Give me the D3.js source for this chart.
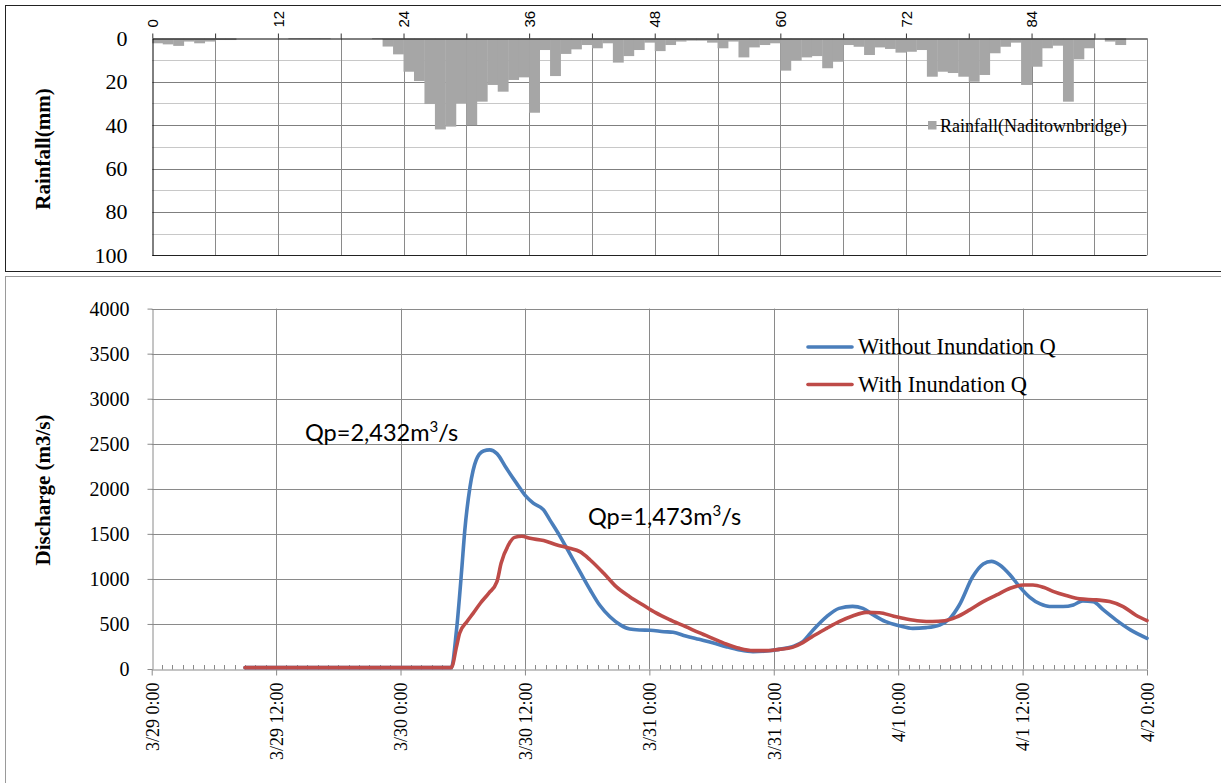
<!DOCTYPE html>
<html>
<head>
<meta charset="utf-8">
<script src="https://cdn.jsdelivr.net/npm/d3@7"></script>
<style>
  body { margin: 0; background: #fff; }
  svg { display: block; }
</style>
</head>
<body>
<svg id="chart" width="1221" height="783"></svg>
<script>
// ---- Hourly rainfall at Naditownbridge (mm), hour 0 = 3/29 0:00 ----
const rainfall = [
  2.3, 2.8, 3.5, 1.5, 2.3, 1.5, 0.8, 0.8, 0, 0,
  0, 0, 0, 0.4, 0.4, 0.4, 0.4, 0, 0, 0,
  0, 0.4, 3.8, 7.4, 15.4, 19.7, 30.3, 42, 40.7, 30,
  40, 29.2, 21.5, 24.6, 19.2, 18, 34.3, 5.4, 17.4, 7.2,
  5.1, 3.1, 4.6, 2.3, 11.2, 8.2, 5.4, 2, 5.9, 3.1,
  1.5, 1.1, 1.1, 2, 4.6, 1.5, 8.8, 4.2, 3.1, 2.3,
  14.9, 10.3, 8.8, 8.2, 13.8, 10.8, 3.1, 3.9, 7.7, 4.2,
  4.9, 6.6, 6.2, 5.4, 17.7, 15.4, 16, 17.7, 20, 16.9,
  6.9, 3.9, 2, 21.5, 13.1, 4.6, 3.4, 29.2, 9.7, 4.6,
  0, 1.5, 3.1, 0, 0
];
const rainHours = d3.range(rainfall.length);
const rainYTicks = [0, 20, 40, 60, 80, 100];

// ---- Discharge hydrographs (hours from 3/29 0:00, m3/s) ----
const withoutHours = [9, 28.9, 29.4, 29.9, 30.2, 30.7, 31.3, 32, 32.6, 33.3, 34.2, 35.2, 36, 36.8, 37.8, 38.4,
  39.4, 40.3, 41.3, 42.3, 43.2, 44.2, 45.2, 46.1, 47.1, 48.1, 49.4, 50.3, 51.5, 52.8, 54.1, 55.4, 56.7,
  58, 59.3, 60.5, 61.8, 62.8, 63.8, 65.1, 66.3, 67.6, 68.6, 69.6, 70.8, 72.1, 73.4, 74.7, 76, 77,
  77.9, 79.2, 80.2, 81, 81.8, 82.8, 83.7, 84.7, 85.7, 86.6, 87.9, 88.9, 89.8, 90.8, 91.8, 93, 94.4, 96];
const withoutQ = [15, 15, 433, 1100, 1540, 2020, 2320, 2420, 2432, 2390, 2230, 2060, 1930, 1840, 1765, 1655,
  1470, 1285, 1080, 877, 710, 580, 490, 444, 433, 430, 414, 407, 366, 329, 292, 248, 211,
  192, 200, 218, 248, 303, 433, 581, 673, 695, 673, 600, 525, 481, 451, 459, 488, 562,
  710, 1026, 1166, 1195, 1155, 1044, 915, 796, 722, 693, 693, 711, 756, 748, 656, 545, 434, 341];

const withHours = [9, 28.9, 29.4, 29.7, 30.4, 31, 31.7, 32.5, 33.3, 33.7, 34.4, 35, 35.7, 36.5, 37.8, 39.1,
  40.3, 41.3, 42.3, 43.6, 44.8, 46.1, 47.4, 48.6, 49.9, 51.5, 52.8, 54.1, 55.4, 56.7, 58, 59.3, 60.5,
  61.8, 62.8, 63.8, 65.1, 66.3, 67.6, 68.9, 70.2, 71.5, 72.8, 74.1, 75.3, 76.5, 77.6, 78.9, 80.2,
  81.5, 82.8, 84.1, 85, 86, 87, 88.2, 89.5, 91.1, 92.4, 93.7, 94.9, 96];
const withQ = [15, 15, 248, 396, 525, 618, 730, 840, 970, 1173, 1376, 1461, 1473, 1450, 1425, 1376,
  1340, 1302, 1210, 1062, 914, 803, 710, 625, 550, 470, 403, 340, 278, 229, 204, 204, 218,
  240, 292, 366, 451, 525, 588, 629, 625, 588, 555, 533, 527, 535, 575, 656, 748,
  822, 896, 933, 933, 907, 859, 815, 778, 767, 748, 693, 600, 537];

const dischargeTicks = d3.range(0, 4001, 500);
const timeTickHours = d3.range(0, 97, 12);
const timeTickLabels = ["3/29 0:00", "3/29 12:00", "3/30 0:00", "3/30 12:00", "3/31 0:00",
  "3/31 12:00", "4/1 0:00", "4/1 12:00", "4/2 0:00"];

const seriesNames = ["Without Inundation Q", "With Inundation Q"];
const seriesColors = ["#4a7ebb", "#be4b48"];

// ---- drawing ----
const serif = "'Liberation Serif','Times New Roman',serif";
const sans = "'Liberation Sans',Arial,sans-serif";
const svg = d3.select("#chart");

// panel frames
svg.append("rect").attr("x", 5.5).attr("y", 5.5).attr("width", 1222).attr("height", 266)
  .attr("fill", "none").attr("stroke", "#222");
svg.append("rect").attr("x", 5.5).attr("y", 276.5).attr("width", 1222).attr("height", 520)
  .attr("fill", "none").attr("stroke", "#9a9a9a");

// ===== Rainfall panel =====
const rL = 152.3, rR = 1146.7, rT = 38.3, rB = 255.3;
const xr = d3.scaleLinear().domain([0, rainfall.length]).range([rL, rR]);
const band = d3.scaleBand().domain(rainHours).range([rL, rR]).padding(0);
const yr = d3.scaleLinear().domain([0, 100]).range([rT, rB]);

const rg = svg.append("g");
// minor horizontal grid (every 10 mm)
rg.selectAll("line.minor").data(d3.range(10, 100, 20)).join("line")
  .attr("x1", rL).attr("x2", rR).attr("y1", d => Math.round(yr(d)) + 0.5).attr("y2", d => Math.round(yr(d)) + 0.5)
  .attr("stroke", "#c8c8c8");
// major horizontal grid
rg.selectAll("line.major").data([20, 40, 60, 80]).join("line")
  .attr("x1", rL).attr("x2", rR).attr("y1", d => Math.round(yr(d)) + 0.5).attr("y2", d => Math.round(yr(d)) + 0.5)
  .attr("stroke", "#7f7f7f");
// vertical grid every 6 h
rg.selectAll("line.v").data(d3.range(6, rainfall.length, 6).concat([rainfall.length])).join("line")
  .attr("x1", d => Math.round(xr(d)) + 0.5).attr("x2", d => Math.round(xr(d)) + 0.5)
  .attr("y1", rT).attr("y2", rB).attr("stroke", "#8a8a8a");

// bars hanging from the top axis
rg.selectAll("rect.bar").data(rainHours).join("rect")
  .attr("x", i => band(i)).attr("width", band.bandwidth() + 0.4)
  .attr("y", yr(0)).attr("height", i => yr(rainfall[i]) - yr(0))
  .attr("fill", "#a6a6a6");

// bottom border
rg.append("line").attr("x1", rL).attr("x2", rR).attr("y1", Math.round(rB) + 0.5).attr("y2", Math.round(rB) + 0.5)
  .attr("stroke", "#222");

// top axis (hours)
const topAxis = d3.axisTop(xr).tickValues(d3.range(0, rainfall.length, 6))
  .tickSize(5).tickSizeOuter(0).tickFormat(d => d % 12 === 0 ? d : "");
const ta = rg.append("g").attr("transform", `translate(0,${Math.round(rT) + 0.5})`).call(topAxis);
ta.select(".domain").attr("stroke", "#000");
ta.selectAll(".tick line").attr("stroke", "#333");
ta.selectAll(".tick text")
  .attr("transform", "rotate(-90)").attr("x", 11).attr("y", 0).attr("dy", "0.35em")
  .attr("text-anchor", "start").attr("font-family", sans).attr("font-size", 15).attr("fill", "#000");

// left axis (mm)
const la = rg.append("g").attr("transform", `translate(${Math.round(rL) + 0.5},0)`)
  .call(d3.axisLeft(yr).tickValues(rainYTicks).tickSize(0).tickPadding(25));
la.select(".domain").attr("stroke", "#000");
la.selectAll(".tick text").attr("font-family", serif).attr("font-size", 22).attr("fill", "#000");

rg.append("text").attr("transform", "translate(50,149) rotate(-90)")
  .attr("text-anchor", "middle").attr("font-family", serif).attr("font-size", 21)
  .attr("font-weight", "bold").text("Rainfall(mm)");

// legend
rg.append("rect").attr("x", 928).attr("y", 121).attr("width", 8.5).attr("height", 8.5).attr("fill", "#a6a6a6");
rg.append("text").attr("x", 940).attr("y", 132).attr("font-family", serif).attr("font-size", 18)
  .attr("fill", "#000").text("Rainfall(Naditownbridge)");

// ===== Discharge panel =====
const qL = 151.7, qR = 1147, qT = 308.6, qB = 669;
const xq = d3.scaleLinear().domain([0, 96]).range([qL, qR]);
const yq = d3.scaleLinear().domain([0, 4000]).range([qB, qT]);

const qg = svg.append("g");
qg.selectAll("line.h").data(dischargeTicks.slice(1)).join("line")
  .attr("x1", qL).attr("x2", qR).attr("y1", d => Math.round(yq(d)) + 0.5).attr("y2", d => Math.round(yq(d)) + 0.5)
  .attr("stroke", "#8a8a8a");
qg.selectAll("line.v").data(timeTickHours.slice(1)).join("line")
  .attr("x1", d => Math.round(xq(d)) + 0.5).attr("x2", d => Math.round(xq(d)) + 0.5)
  .attr("y1", qT).attr("y2", qB).attr("stroke", "#8a8a8a");

// hourly minor ticks
qg.selectAll("line.minor").data(d3.range(0, 97).filter(h => h % 12 !== 0)).join("line")
  .attr("x1", d => Math.round(xq(d)) + 0.5).attr("x2", d => Math.round(xq(d)) + 0.5)
  .attr("y1", Math.round(qB) + 0.5).attr("y2", Math.round(qB) - 4)
  .attr("stroke", "#8a8a8a");

const xa = qg.append("g").attr("transform", `translate(0,${Math.round(qB) + 0.5})`)
  .call(d3.axisBottom(xq).tickValues(timeTickHours).tickSize(6).tickSizeOuter(0)
    .tickFormat((d, i) => timeTickLabels[i]));
xa.select(".domain").attr("stroke", "#8a8a8a");
xa.selectAll(".tick line").attr("stroke", "#8a8a8a");
xa.selectAll(".tick text")
  .attr("transform", "rotate(-90)").attr("x", -13).attr("y", 0).attr("dy", "0.35em")
  .attr("text-anchor", "end").attr("font-family", serif).attr("font-size", 18).attr("fill", "#000");

const ya = qg.append("g").attr("transform", `translate(${Math.round(qL) + 0.5},0)`)
  .call(d3.axisLeft(yq).tickValues(dischargeTicks).tickSize(5).tickSizeOuter(0).tickPadding(18)
    .tickFormat(d3.format("d")));
ya.select(".domain").attr("stroke", "#8a8a8a");
ya.selectAll(".tick line").attr("stroke", "#8a8a8a");
ya.selectAll(".tick text").attr("font-family", serif).attr("font-size", 20).attr("fill", "#000");

qg.append("text").attr("transform", "translate(50,490) rotate(-90)")
  .attr("text-anchor", "middle").attr("font-family", serif).attr("font-size", 21)
  .attr("font-weight", "bold").text("Discharge (m3/s)");

// hydrographs
const line = d3.line().x(d => xq(d[0])).y(d => yq(d[1])).curve(d3.curveMonotoneX);
const series = [d3.zip(withoutHours, withoutQ), d3.zip(withHours, withQ)];
qg.selectAll("path.q").data(series).join("path")
  .attr("d", line).attr("fill", "none")
  .attr("stroke", (d, i) => seriesColors[i]).attr("stroke-width", 3.6)
  .attr("stroke-linejoin", "round").attr("stroke-linecap", "round");

// legend
const lg = qg.append("g");
seriesNames.forEach((name, i) => {
  const y = 347 + i * 37.5;
  lg.append("line").attr("x1", 808).attr("x2", 852).attr("y1", y).attr("y2", y)
    .attr("stroke", seriesColors[i]).attr("stroke-width", 3.6).attr("stroke-linecap", "round");
  lg.append("text").attr("x", 858).attr("y", y).attr("dy", "0.33em")
    .attr("font-family", serif).attr("font-size", 22.5).attr("fill", "#000").text(name);
});

// peak annotations, written from the series maxima
const peakFmt = d3.format(",");
const peaks = [[d3.max(withoutQ), 305, 441], [d3.max(withQ), 588, 525]];
const pt = qg.selectAll("text.peak").data(peaks).join("text")
  .attr("x", d => d[1]).attr("y", d => d[2])
  .attr("font-family", "Lato, 'Open Sans', sans-serif").attr("font-size", 23.5).attr("fill", "#000");
pt.append("tspan").text(d => `Qp=${peakFmt(d[0])}m`);
pt.append("tspan").attr("dy", -9).attr("font-size", 15).text("3");
pt.append("tspan").attr("dy", 9).text("/s");
</script>
</body>
</html>
